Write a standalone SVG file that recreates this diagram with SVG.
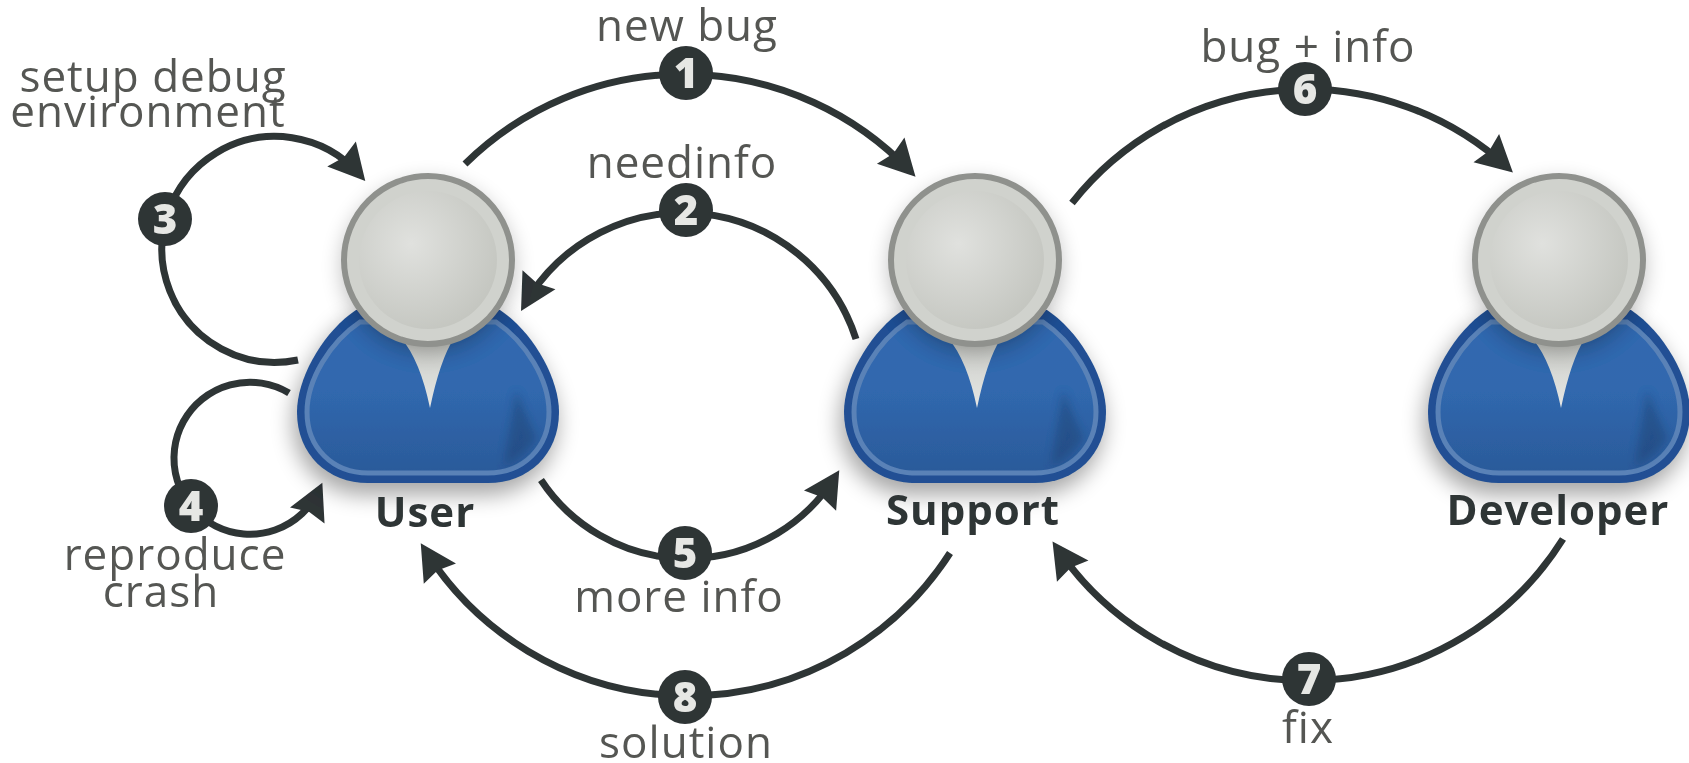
<svg xmlns="http://www.w3.org/2000/svg" width="1689" height="763" viewBox="0 0 1689 763">
<style>
.lab{font-family:"Open Sans","Noto Sans","Liberation Sans",sans-serif;font-size:44px;letter-spacing:1px;fill:#555753;text-anchor:middle}
.name{font-family:"Open Sans","Noto Sans","Liberation Sans",sans-serif;font-size:42px;letter-spacing:1px;font-weight:700;fill:#2e3436;text-anchor:middle}
.num{font-family:"Open Sans","Noto Sans","Liberation Sans",sans-serif;font-size:42px;font-weight:800;fill:#e6e7e4;text-anchor:middle}
.arc{fill:none;stroke:#2e3436;stroke-width:7;marker-end:url(#ah)}
.dot{fill:#2e3436}
</style>
<defs>
<marker id="ah" markerUnits="userSpaceOnUse" markerWidth="50" markerHeight="50" refX="34" refY="25" orient="auto" viewBox="0 0 50 50"><path d="M42,25 L6,6 L10,25 L6,44 Z" fill="#2e3436"/></marker>
<radialGradient id="hg" cx="0.38" cy="0.38" r="0.72"><stop offset="0" stop-color="#e0e1de"/><stop offset="1" stop-color="#c2c4be"/></radialGradient>
<linearGradient id="bg" x1="0" y1="0" x2="0" y2="1"><stop offset="0" stop-color="#3068b0"/><stop offset="0.45" stop-color="#3068ae"/><stop offset="1" stop-color="#2b5a9a"/></linearGradient>
<linearGradient id="vg" x1="0" y1="0" x2="0" y2="1"><stop offset="0" stop-color="#c9cbc6"/><stop offset="1" stop-color="#e6e7e5"/></linearGradient>
<filter id="sh" x="-30%" y="-30%" width="160%" height="160%"><feGaussianBlur stdDeviation="11"/></filter>
<filter id="fold" x="-50%" y="-50%" width="200%" height="200%"><feGaussianBlur stdDeviation="4"/></filter>
<filter id="soft" x="0" y="0" width="100%" height="100%" filterUnits="userSpaceOnUse"><feGaussianBlur stdDeviation="0.7"/></filter>
<g id="person">
<path d="M-75,50C-105,72-132,118-132,152C-132,195-100,225-60,225L60,225C100,225 132,195 132,152C132,118 105,72 75,50Z" fill="#000" opacity=".35" filter="url(#sh)" transform="translate(-3,10)"/>
<path d="M-72,50C-105,72-131,118-131,152C-131,195-100,223-60,223L60,223C100,223 131,195 131,152C131,118 105,72 72,50Z" fill="#204f94"/>
<path d="M-68,62C-98,82-121,120-121,152C-121,188-95,213-60,213L60,213C95,213 121,188 121,152C121,120 98,82 68,62Z" fill="url(#bg)" stroke="#5a82b7" stroke-width="5"/>
<path d="M88,130L108,178Q96,198 76,206Z" fill="#16365f" opacity=".35" filter="url(#fold)"/>
<path d="M-27,78Q-8,100 2,148Q12,100 26,78Z" fill="url(#vg)"/>
<circle r="85" cy="7" fill="#000" opacity=".28" filter="url(#sh)"/>
<circle r="84" fill="#d0d2cd" stroke="#8f918d" stroke-width="6"/>
<circle r="69" fill="url(#hg)"/>
</g>
</defs>
<rect width="1689" height="763" fill="#fff"/>
<g id="diagram" filter="url(#soft)">
<g id="connectors">
<path class="arc" d="M465,164A312,312 0 0 1 910,171"/>
<path class="arc" d="M856,339A182,182 0 0 0 525,304"/>
<path class="arc" d="M298,360A113,113 0 1 1 360,175"/>
<path class="arc" d="M289,393A76,76 0 1 0 319,490"/>
<path class="arc" d="M541,480A175,175 0 0 0 835,477"/>
<path class="arc" d="M1072,203A298,298 0 0 1 1507,167"/>
<path class="arc" d="M1563,539A302,302 0 0 1 1057,548"/>
<path class="arc" d="M950,553A311,311 0 0 1 425,550"/>
</g>
<g id="user"><use href="#person" x="428" y="260"/><text class="name" x="425" y="527">User</text></g>
<g id="support"><use href="#person" x="975" y="260"/><text class="name" x="973" y="525">Support</text></g>
<g id="developer"><use href="#person" x="1559" y="260"/><text class="name" x="1558" y="525">Developer</text></g>
<g id="step1"><circle class="dot" cx="686" cy="73" r="27"/><text class="num" x="686" y="88">1</text><text class="lab" x="687" y="41">new bug</text></g>
<g id="step2"><circle class="dot" cx="686" cy="210" r="27"/><text class="num" x="686" y="225">2</text><text class="lab" x="682" y="178">needinfo</text></g>
<g id="step3"><circle class="dot" cx="165" cy="219" r="27"/><text class="num" x="165" y="234">3</text><text class="lab" x="153" y="92">setup debug</text><text class="lab" x="148" y="127">environment</text></g>
<g id="step4"><circle class="dot" cx="191" cy="506" r="27"/><text class="num" x="191" y="521">4</text><text class="lab" x="175" y="570">reproduce</text><text class="lab" x="161" y="607">crash</text></g>
<g id="step5"><circle class="dot" cx="685" cy="553" r="27"/><text class="num" x="685" y="568">5</text><text class="lab" x="679" y="612">more info</text></g>
<g id="step6"><circle class="dot" cx="1305" cy="89" r="27"/><text class="num" x="1305" y="104">6</text><text class="lab" x="1308" y="62">bug + info</text></g>
<g id="step7"><circle class="dot" cx="1309" cy="679" r="27"/><text class="num" x="1309" y="694">7</text><text class="lab" x="1308" y="743">fix</text></g>
<g id="step8"><circle class="dot" cx="685" cy="697" r="27"/><text class="num" x="685" y="712">8</text><text class="lab" x="686" y="758">solution</text></g>
</g>
</svg>
